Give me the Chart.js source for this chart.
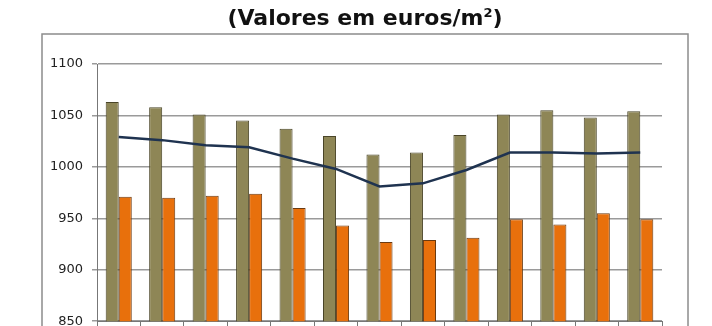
<!DOCTYPE html>
<html>
    <head>
        <title>Valores em euros/m2</title>
        <meta charset="UTF-8">
        <style>
            body {
                margin: 0;
                background: #fff;
                overflow: hidden;
            }
            /* o grafico original esta cortado em baixo */
            #chartContainer {
                position: relative;
                width: 712px;
                height: 338px;
            }
            #titulo {
                position: absolute;
                left: 165px;
                width: 400px;
                top: 5px;
                text-align: center;
                font-family: 'DejaVu Sans', sans-serif;
                font-weight: bold;
                font-size: 22px;
                color: #111;
            }
            #titulo sup {
                font-size: 13px;
            }
        </style>
    </head>
    <body>
        <div id="chartContainer">
            <canvas id="myChart"></canvas>
            <div id="titulo">(Valores em euros/m<sup>2</sup>)</div>
        </div>

        <script src="https://cdn.jsdelivr.net/npm/chart.js@4.4.1/dist/chart.umd.min.js"></script>
        <script>
            // 13 periodos (rotulos do eixo x ficam fora da imagem)
            var labels = ['1', '2', '3', '4', '5', '6', '7', '8', '9', '10', '11', '12', '13'];
            var serieA = [1063, 1058, 1051, 1045, 1037, 1030, 1012, 1014, 1031, 1051, 1055, 1048, 1054];
            var serieB = [971, 970, 972, 974, 960, 943, 927, 929, 931, 949, 944, 955, 949];
            var media = [1029, 1026, 1021, 1019, 1008, 998, 981, 984, 997, 1014, 1014, 1013, 1014];
            var yTicks = [850, 900, 950, 1000, 1050, 1100];

            // moldura cinzenta do grafico (como no Excel)
            var framePlugin = {
                id: 'frame',
                beforeDraw: function (chart) {
                    var ctx = chart.ctx;
                    ctx.save();
                    ctx.strokeStyle = '#8c8c8c';
                    ctx.lineWidth = 1.5;
                    ctx.strokeRect(42, 34, 646, 340);
                    ctx.restore();
                }
            };

            var ctx = document.getElementById("myChart");
            var myChart = new Chart(ctx, {
                type: 'bar',
                data: {
                    labels: labels,
                    datasets: [
                        {
                            type: 'line',
                            label: 'Média',
                            data: media,
                            borderColor: '#1f3350',
                            borderWidth: 2.5,
                            pointRadius: 0,
                            tension: 0,
                            fill: false,
                            order: 0
                        },
                        {
                            label: 'A',
                            data: serieA,
                            backgroundColor: '#8e8656',
                            borderColor: '#4a4528',
                            borderWidth: 1,
                            categoryPercentage: 0.6,
                            barPercentage: 1.0,
                            order: 1
                        },
                        {
                            label: 'B',
                            data: serieB,
                            backgroundColor: '#e8700c',
                            borderColor: '#6b3a10',
                            borderWidth: 1,
                            categoryPercentage: 0.6,
                            barPercentage: 1.0,
                            order: 1
                        }
                    ]
                },
                options: {
                    responsive: true,
                    maintainAspectRatio: false,
                    animation: false,
                    layout: {
                        padding: {left: 42, right: 50, top: 64, bottom: 0}
                    },
                    plugins: {
                        legend: {display: false},
                        tooltip: {enabled: false},
                        title: {display: false}
                    },
                    scales: {
                        x: {
                            afterFit: function (scale) {
                                scale.height = 5;
                            },
                            grid: {
                                offset: true,
                                drawOnChartArea: false,
                                drawTicks: true,
                                tickLength: 6,
                                color: '#777'
                            },
                            border: {color: '#777'},
                            ticks: {display: false}
                        },
                        y: {
                            min: 850,
                            max: 1100,
                            afterBuildTicks: function (scale) {
                                scale.ticks = yTicks.map(function (v) {
                                    return {value: v};
                                });
                            },
                            afterFit: function (scale) {
                                scale.width = 55;
                            },
                            grid: {
                                color: '#9a9a9a',
                                lineWidth: 1.5,
                                tickLength: 5
                            },
                            border: {color: '#777'},
                            ticks: {
                                padding: 9,
                                color: '#222',
                                font: {family: 'DejaVu Sans', size: 13},
                                callback: function (value) {
                                    return String(value);
                                }
                            }
                        }
                    }
                },
                plugins: [framePlugin]
            });
        </script>
    </body>
</html>
